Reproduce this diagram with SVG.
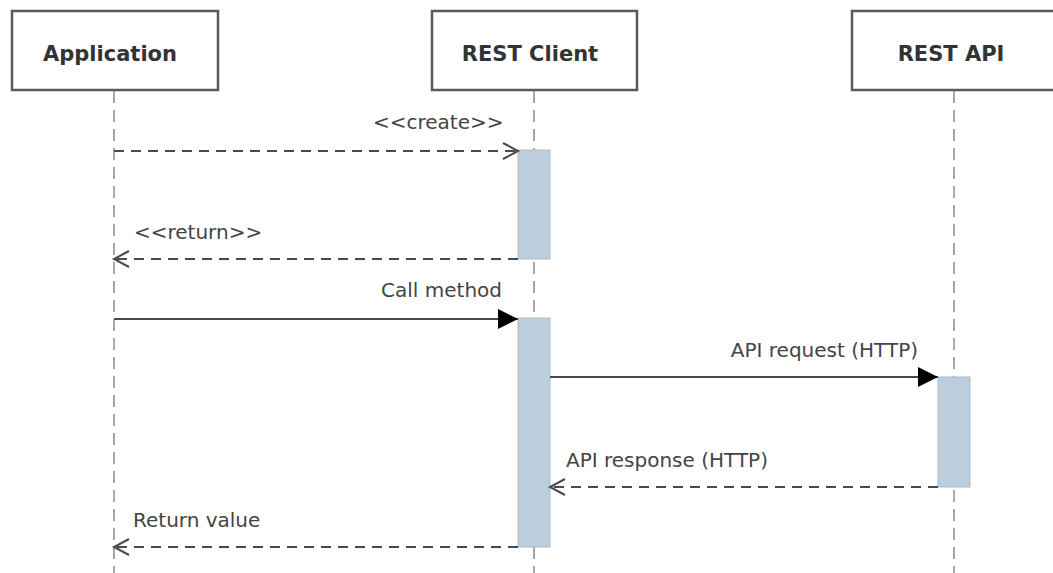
<svg xmlns="http://www.w3.org/2000/svg" width="1053" height="573" viewBox="0 0 1053 573">
<style>
.box{fill:#fff;stroke:#5a5a5a;stroke-width:2.5}
.title{font-family:"DejaVu Sans","Open Sans",sans-serif;font-weight:bold;font-size:21px;fill:#333;text-anchor:middle}
.life{stroke:#a8a8a8;stroke-width:2;stroke-dasharray:12 7;fill:none}
.act{fill:#bccddb;stroke:#a9bccb;stroke-width:1}
.msg{stroke:#4a4a4a;stroke-width:2;fill:none}
.dash{stroke-dasharray:10 7}
.lbl{font-family:"DejaVu Sans","Open Sans",sans-serif;font-size:20px;fill:#444}
</style>
<defs>
<marker id="open" markerUnits="userSpaceOnUse" markerWidth="20" markerHeight="20" refX="16" refY="10" orient="auto">
<path d="M1,2 L16,10 L1,18" fill="none" stroke="#4a4a4a" stroke-width="2"/>
</marker>
<marker id="solid" markerUnits="userSpaceOnUse" markerWidth="22" markerHeight="22" refX="20" refY="11" orient="auto">
<path d="M0,1 L20,11 L0,21 Z" fill="#000"/>
</marker>
</defs>
<rect width="1053" height="573" fill="#fff"/>
<g id="application">
<line class="life" x1="114" y1="91" x2="114" y2="573"/>
<rect class="box" x="12" y="11" width="206" height="79"/>
<text class="title" x="110" y="61">Application</text>
</g>
<g id="rest-client">
<line class="life" x1="534" y1="91" x2="534" y2="573"/>
<rect class="box" x="432" y="11" width="205" height="79"/>
<text class="title" x="530" y="61">REST Client</text>
<rect class="act" x="518" y="150" width="32" height="109"/>
<rect class="act" x="518" y="318" width="32" height="229"/>
</g>
<g id="rest-api">
<line class="life" x1="954" y1="91" x2="954" y2="573"/>
<rect class="box" x="852" y="11" width="215" height="79"/>
<text class="title" x="951" y="61">REST API</text>
<rect class="act" x="938" y="377" width="32" height="110"/>
</g>
<g id="connectors">
<line class="msg dash" x1="114" y1="151" x2="518" y2="151" marker-end="url(#open)"/>
<text class="lbl" x="373" y="129">&lt;&lt;create&gt;&gt;</text>
<line class="msg dash" x1="518" y1="259" x2="114" y2="259" marker-end="url(#open)"/>
<text class="lbl" x="134" y="239">&lt;&lt;return&gt;&gt;</text>
<line class="msg" x1="114" y1="319" x2="518" y2="319" marker-end="url(#solid)"/>
<text class="lbl" x="502" y="297" text-anchor="end">Call method</text>
<line class="msg" x1="550" y1="377" x2="938" y2="377" marker-end="url(#solid)"/>
<text class="lbl" x="918" y="357" text-anchor="end">API request (HTTP)</text>
<line class="msg dash" x1="938" y1="487" x2="550" y2="487" marker-end="url(#open)"/>
<text class="lbl" x="566" y="467">API response (HTTP)</text>
<line class="msg dash" x1="518" y1="547" x2="114" y2="547" marker-end="url(#open)"/>
<text class="lbl" x="133" y="527">Return value</text>
</g>
</svg>
